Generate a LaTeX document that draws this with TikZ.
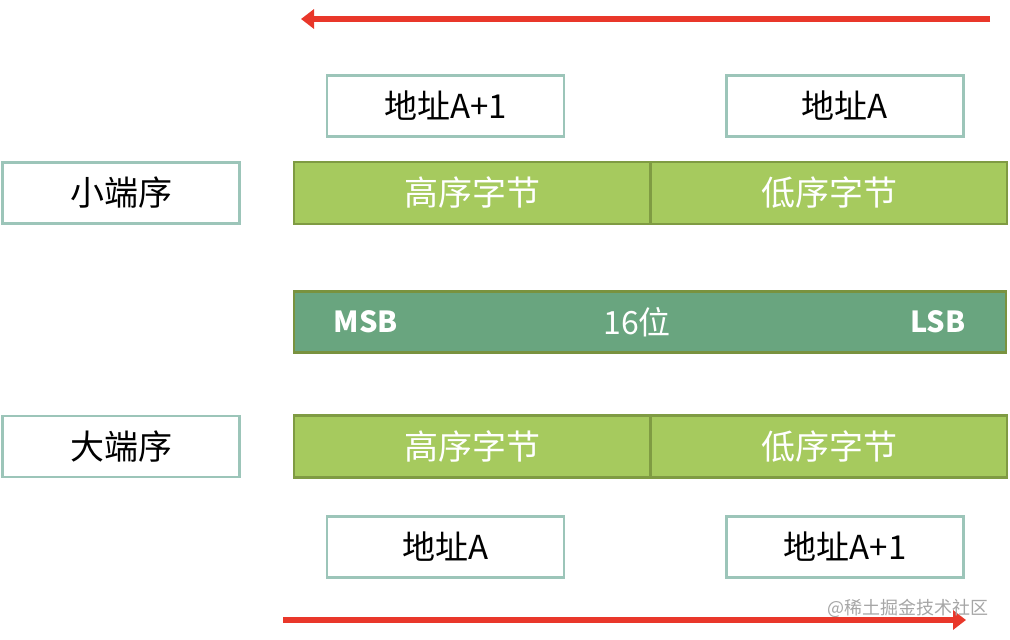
\documentclass[tikz,border=0pt]{standalone}
\usepackage{fontspec}
\usepackage{xcolor}
\usepackage{tikz}
\usetikzlibrary{positioning}
\usetikzlibrary{arrows.meta}
\setmainfont{Noto Sans CJK SC}
\newfontfamily\cjk{Noto Sans CJK SC}
\definecolor{boxline}{HTML}{9CC5B9}
\definecolor{bytefill}{HTML}{A6CA5E}
\definecolor{byteline}{HTML}{7F9B43}
\definecolor{bitfill}{HTML}{69A57F}
\definecolor{bitline}{HTML}{79923F}
\definecolor{arrowred}{HTML}{E9372A}

\begin{document}
\begin{tikzpicture}[x=1pt,y=-1pt,
  addrbox/.style={draw=boxline,line width=2.5pt,fill=white,minimum width=237pt,minimum height=61pt,inner sep=0pt,font=\fontsize{33}{35}\selectfont},
  orderbox/.style={addrbox,font=\fontsize{34}{36}\selectfont},
  bytecell/.style={draw=byteline,line width=2.5pt,fill=bytefill,minimum width=356pt,minimum height=62pt,inner sep=0pt,text=white,font=\fontsize{34}{36}\selectfont},
  bitbar/.style={draw=bitline,line width=2.5pt,fill=bitfill,minimum width=712pt,minimum height=61pt,inner sep=0pt},
  bitlabel/.style={text=white,font=\fontsize{32}{34}\selectfont},
  endlabel/.style={text=white,font=\fontsize{29}{31}\selectfont\bfseries},
  order/.style={-{Triangle[length=13pt,width=19pt]},arrowred,line width=6pt}]
\useasboundingbox (0,0) rectangle (1010,640);

% top arrow
\coordinate (topstart) at (990,19);
\coordinate (topend)   at (301,19);
\draw[order] (topstart) -- (topend);

% little endian
\node[addrbox]  (leHi)   at (445.5,106) {地址A+1};
\node[addrbox]  (leLo)   at (845,106)   {地址A};
\node[orderbox] (little) at (121,193)   {小端序};
\node[bytecell] (leHigh) at (472,193)   {高序字节};
\node[bytecell] (leLow)  at (829,193)   {低序字节};

% 16 bit word
\node[bitbar] (word) at (650,322) {};
\node[endlabel] (msb) at (366,322) {MSB};
\node[bitlabel] (bits) at (637,322) {16位};
\node[endlabel] (lsb) at (938,322) {LSB};

% big endian
\node[orderbox] (big)    at (121,446.5) {大端序};
\node[bytecell] (beHigh) at (472,446.5) {高序字节};
\node[bytecell] (beLow)  at (829,446.5) {低序字节};
\node[addrbox]  (beLo)   at (445.5,547) {地址A};
\node[addrbox]  (beHi)   at (845,547)   {地址A+1};

% bottom arrow
\coordinate (botstart) at (283,620);
\coordinate (botend)   at (966,620);
\draw[order] (botstart) -- (botend);

\node[text=gray!70,font=\fontsize{18}{20}\selectfont,anchor=east] (mark) at (992,608) {@稀土掘金技术社区};
\end{tikzpicture}
\end{document}
